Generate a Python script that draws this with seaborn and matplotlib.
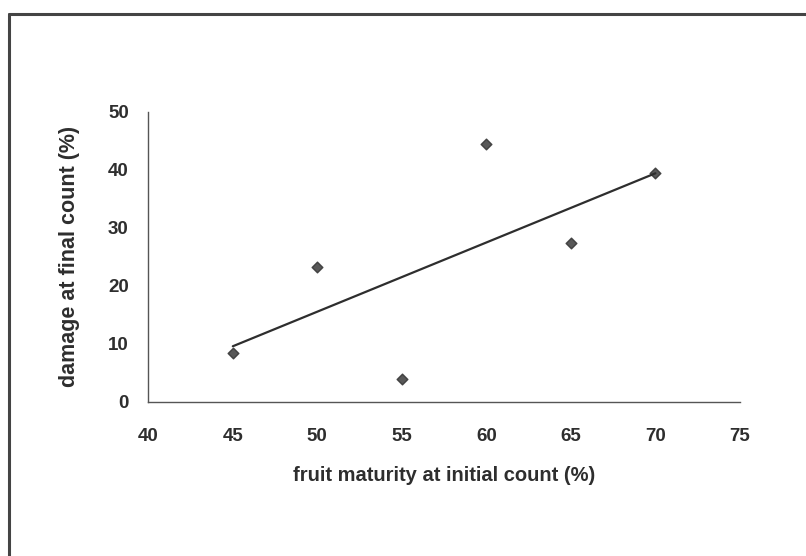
import pandas as pd
import matplotlib.pyplot as plt
import seaborn as sns
from matplotlib.lines import Line2D

# values
maturity = [45, 50, 55, 60, 65, 70]
damage = [8.4, 23.2, 4.0, 44.5, 27.4, 39.5]
x_ticks = [40, 45, 50, 55, 60, 65, 70, 75]
y_ticks = [0, 10, 20, 30, 40, 50]

df = pd.DataFrame({"maturity": maturity, "damage": damage})

sns.set_style("white")
plt.rcParams['font.family'] = ['Liberation Sans', 'DejaVu Sans']
ink = "#2e2e2e"

fig = plt.figure(figsize=(8.06, 5.56), dpi=100)
ax = fig.add_axes([0.184, 0.277, 0.734, 0.522])

# scatter + linear trend line
sns.regplot(data=df, x="maturity", y="damage", ci=None, ax=ax,
            marker="D",
            scatter_kws={"s": 30, "color": ink, "edgecolor": ink, "zorder": 3},
            line_kws={"color": ink, "linewidth": 1.6})

ax.set_xlim(40, 75)
ax.set_ylim(0, 50)
ax.set_xticks(x_ticks)
ax.set_yticks(y_ticks)
ax.tick_params(axis="both", direction="out", length=5, width=1, color="#555555",
               labelsize=13.5, labelcolor=ink)
ax.tick_params(axis="x", pad=14)
ax.tick_params(axis="y", pad=9)
for lab in ax.get_xticklabels() + ax.get_yticklabels():
    lab.set_fontweight("bold")

sns.despine(ax=ax)
for side in ["left", "bottom"]:
    ax.spines[side].set_color("#555555")
    ax.spines[side].set_linewidth(1)

ax.set_xlabel("fruit maturity at initial count (%)", fontsize=14.5,
              fontweight="bold", color=ink, labelpad=15)
ax.set_ylabel("damage at final count (%)", fontsize=15.5,
              fontweight="bold", color=ink, labelpad=20)

# frame from the scanned page (top and left edges)
fig.add_artist(Line2D([0.011, 1.0], [0.974, 0.974], transform=fig.transFigure,
                      color="#444444", linewidth=2.2))
fig.add_artist(Line2D([0.011, 0.011], [0.0, 0.974], transform=fig.transFigure,
                      color="#444444", linewidth=2.2))

plt.savefig("out.png", dpi=100)
